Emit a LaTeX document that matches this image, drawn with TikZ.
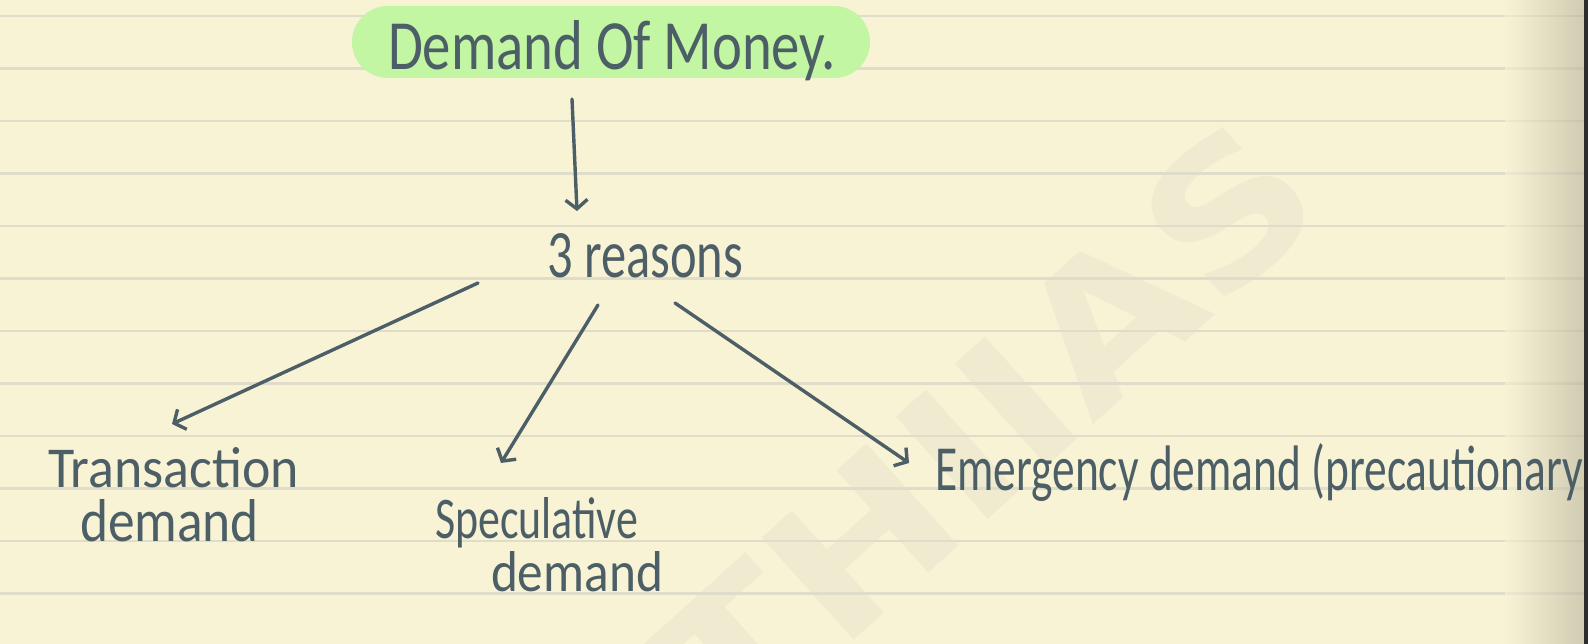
\documentclass[tikz,border=0pt]{standalone}
\usepackage{fontspec}
\setmainfont{Carlito}
\newfontfamily\wmfont{DejaVu Sans}
\usetikzlibrary{arrows.meta}
\definecolor{page}{RGB}{249,243,214}
\definecolor{rulec}{RGB}{223,220,201}
\definecolor{ink}{RGB}{76,94,102}
\definecolor{hl}{RGB}{194,246,162}
\definecolor{wm}{RGB}{240,235,208}
\definecolor{curlmid}{RGB}{238,234,205}
\definecolor{curl}{RGB}{182,179,154}
\definecolor{edgec}{RGB}{45,45,45}
\tikzset{
  txt/.style={inner sep=0pt, outer sep=0pt, text=ink, anchor=base west},
  arr/.style={draw=ink, line width=3.4pt, line cap=round, line join=round,
    -{Straight Barb[length=9pt,width=22pt]}},
  ruleline/.style={draw=rulec, line width=2.2pt},
  wmark/.style={inner sep=0pt, text=wm, rotate=42},
}
\begin{document}
\begin{tikzpicture}[x=1pt,y=-1pt]
\useasboundingbox (0,0) rectangle (1588,644);
\fill[page] (0,0) rectangle (1588,644);
\begin{scope}
  \clip (0,0) rectangle (1588,644);
  \node[wmark] (watermark) at (985,430) {\resizebox{810pt}{140pt}{\wmfont\bfseries THIIAS}};
\end{scope}
\foreach \k in {0,...,11} \draw[ruleline] (0,{16+52.5*\k}) -- (1584,{16+52.5*\k});
\shade[left color=page, middle color=curlmid, right color=curl, fill opacity=0.6] (1505,0) rectangle (1584,644);
% highlight
\fill[hl, rounded corners=36pt] (352,6) rectangle (870,78);
% texts
\node[txt] (title) at (388,70) {\resizebox{448pt}{49pt}{Demand Of Money.}};
\node[txt] (reasons) at (547,278) {\resizebox{196pt}{44pt}{3 reasons}};
\node[txt] (trans) at (48,487) {\resizebox{251pt}{40pt}{Transaction}};
\node[txt] (transd) at (80,541) {\resizebox{179pt}{42pt}{demand}};
\node[txt] (spec) at (435,538) {\resizebox{203pt}{41pt}{Speculative}};
\node[txt] (specd) at (491,591) {\resizebox{172pt}{40pt}{demand}};
\node[txt] (emer) at (935,490) {\resizebox{648pt}{47pt}{Emergency demand (precautionary}};
% arrows
\coordinate (a1s) at (572,99);  \coordinate (a1e) at (577,211);
\coordinate (a2s) at (478,283); \coordinate (a2e) at (172,424);
\coordinate (a3s) at (598,305); \coordinate (a3e) at (501,463);
\coordinate (a4s) at (675,303); \coordinate (a4e) at (909,463);
\draw[arr] (a1s) -- (a1e);
\draw[arr] (a2s) -- (a2e);
\draw[arr] (a3s) -- (a3e);
\draw[arr] (a4s) -- (a4e);
\fill[edgec] (1584,0) rectangle (1588,644);
\end{tikzpicture}
\end{document}
